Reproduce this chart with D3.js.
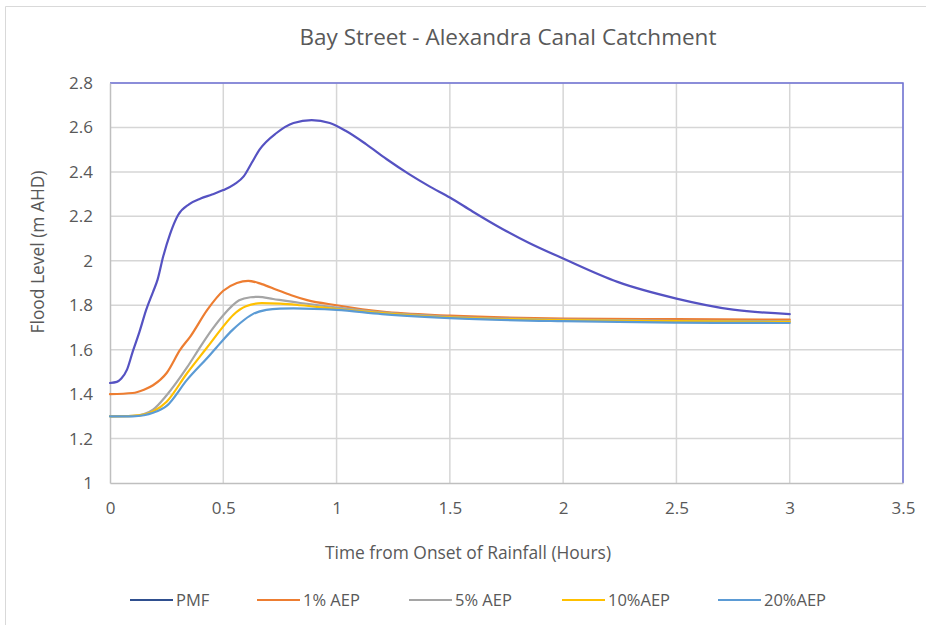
<!DOCTYPE html>
<html>
<head>
<meta charset="utf-8">
<script src="https://cdn.jsdelivr.net/npm/d3@7"></script>
<style>
  html, body { margin: 0; padding: 0; background: #ffffff; }
  svg { display: block; font-family: "Open Sans", "Lato", sans-serif; }
</style>
</head>
<body>
<svg id="chart" width="926" height="625"></svg>
<script>
// Flood level hydrographs, Bay Street - Alexandra Canal Catchment
const title = "Bay Street - Alexandra Canal Catchment";
const xTitle = "Time from Onset of Rainfall (Hours)";
const yTitle = "Flood Level (m AHD)";

const xTicks = [0, 0.5, 1, 1.5, 2, 2.5, 3, 3.5];
const yTicks = [1, 1.2, 1.4, 1.6, 1.8, 2, 2.2, 2.4, 2.6, 2.8];

const seriesNames = ["PMF", "1% AEP", "5% AEP", "10%AEP", "20%AEP"];
const seriesColors = ["#5552c2", "#ed7d31", "#a5a5a5", "#ffc000", "#5b9bd5"];
const legendSwatchColors = ["#2f4f8f", "#ed7d31", "#a5a5a5", "#ffc000", "#5b9bd5"];

// [hours, m AHD]
const pmf = [
  [0, 1.45], [0.03, 1.455], [0.05, 1.47], [0.075, 1.51], [0.10, 1.59], [0.13, 1.68],
  [0.16, 1.78], [0.19, 1.86], [0.21, 1.915], [0.235, 2.02], [0.265, 2.12], [0.30, 2.205],
  [0.35, 2.255], [0.40, 2.28], [0.45, 2.298], [0.50, 2.318], [0.55, 2.345], [0.59, 2.38],
  [0.625, 2.44], [0.66, 2.50], [0.735, 2.575], [0.81, 2.62], [0.89, 2.633], [0.97, 2.62],
  [1.04, 2.585], [1.13, 2.525], [1.22, 2.458], [1.32, 2.39], [1.41, 2.335], [1.5, 2.285],
  [1.6, 2.222], [1.72, 2.15], [1.85, 2.08], [2.0, 2.01], [2.24, 1.905], [2.5, 1.83],
  [2.75, 1.78], [3.0, 1.76]
];
const aep1 = [
  [0, 1.40], [0.1, 1.405], [0.15, 1.42], [0.19, 1.44], [0.25, 1.495], [0.31, 1.60],
  [0.355, 1.66], [0.43, 1.78], [0.50, 1.865], [0.56, 1.90], [0.61, 1.91], [0.67, 1.895],
  [0.735, 1.87], [0.80, 1.845], [0.87, 1.823], [1.0, 1.80], [1.2, 1.771], [1.5, 1.753],
  [2.0, 1.74], [2.5, 1.737], [3.0, 1.735]
];
const aep5 = [
  [0, 1.30], [0.1, 1.302], [0.15, 1.31], [0.19, 1.33], [0.25, 1.395], [0.34, 1.52],
  [0.40, 1.615], [0.45, 1.69], [0.5, 1.755], [0.57, 1.822], [0.62, 1.836], [0.655, 1.838],
  [0.72, 1.828], [0.84, 1.81], [1.0, 1.79], [1.2, 1.768], [1.5, 1.748], [2.0, 1.735],
  [2.5, 1.73], [3.0, 1.728]
];
const aep10 = [
  [0, 1.30], [0.1, 1.302], [0.15, 1.308], [0.19, 1.322], [0.25, 1.366], [0.34, 1.494],
  [0.40, 1.573], [0.44, 1.625], [0.5, 1.705], [0.545, 1.757], [0.6, 1.795], [0.67, 1.809],
  [0.75, 1.807], [0.84, 1.80], [1.0, 1.783], [1.2, 1.765], [1.5, 1.745], [2.0, 1.733],
  [2.5, 1.728], [3.0, 1.725]
];
const aep20 = [
  [0, 1.30], [0.1, 1.30], [0.15, 1.305], [0.19, 1.316], [0.25, 1.347], [0.34, 1.464],
  [0.44, 1.575], [0.47, 1.61], [0.5, 1.645], [0.54, 1.688], [0.575, 1.72], [0.63, 1.76],
  [0.69, 1.779], [0.75, 1.785], [0.81, 1.786], [1.0, 1.779], [1.2, 1.76], [1.5, 1.742],
  [2.0, 1.728], [2.5, 1.722], [3.0, 1.72]
];
const seriesData = [pmf, aep1, aep5, aep10, aep20];

const svg = d3.select("#chart");
const W = 926, H = 625;
const plot = { left: 110, right: 903, top: 83, bottom: 483 };
const textColor = "#595959";
const labelSize = 17;

// chart frame
svg.append("path")
  .attr("d", `M5.5,${H} L5.5,6.5 L${W},6.5`)
  .attr("fill", "none").attr("stroke", "#d9d9d9").attr("stroke-width", 1);

const x = d3.scaleLinear().domain([0, 3.5]).range([plot.left, plot.right]);
const y = d3.scaleLinear().domain([1, 2.8]).range([plot.bottom, plot.top]);

// gridlines
const grid = svg.append("g");
grid.selectAll("line.h").data(yTicks.slice(1)).join("line")
  .attr("x1", plot.left).attr("x2", plot.right)
  .attr("y1", d => y(d)).attr("y2", d => y(d))
  .attr("stroke", "#d6d6d6").attr("stroke-width", 1.5);
grid.selectAll("line.v").data(xTicks.slice(1)).join("line")
  .attr("y1", plot.top).attr("y2", plot.bottom)
  .attr("x1", d => x(d)).attr("x2", d => x(d))
  .attr("stroke", "#d6d6d6").attr("stroke-width", 1.5);

// plot area border (top and right)
svg.append("path")
  .attr("d", `M${plot.left},${plot.top} L${plot.right},${plot.top} L${plot.right},${plot.bottom}`)
  .attr("fill", "none").attr("stroke", "#6f72d6").attr("stroke-width", 1.5);

// axes
const xAxis = svg.append("g").attr("transform", `translate(0,${plot.bottom})`)
  .call(d3.axisBottom(x).tickValues(xTicks).tickSize(0).tickPadding(19).tickFormat(d3.format("")));
const yAxis = svg.append("g").attr("transform", `translate(${plot.left},0)`)
  .call(d3.axisLeft(y).tickValues(yTicks).tickSize(0).tickPadding(17).tickFormat(d3.format("")));
[xAxis, yAxis].forEach(a => {
  a.select(".domain").attr("stroke", "#bfbfbf").attr("stroke-width", 1.5);
  a.selectAll("text").attr("fill", textColor).attr("font-size", labelSize)
    .attr("font-family", "'Open Sans', sans-serif");
});

// series lines
const line = d3.line().x(d => x(d[0])).y(d => y(d[1])).curve(d3.curveMonotoneX);
svg.append("g").selectAll("path").data(seriesData).join("path")
  .attr("d", d => line(d))
  .attr("fill", "none")
  .attr("stroke", (d, i) => seriesColors[i])
  .attr("stroke-width", 2.2)
  .attr("stroke-linejoin", "round").attr("stroke-linecap", "round");

// titles
svg.append("text").attr("x", 508).attr("y", 45).attr("text-anchor", "middle")
  .attr("font-size", 22.5).attr("fill", textColor).text(title);
svg.append("text").attr("x", 468).attr("y", 559).attr("text-anchor", "middle")
  .attr("font-size", 17.4).attr("fill", textColor).text(xTitle);
svg.append("text").attr("transform", `translate(44,252) rotate(-90)`)
  .attr("text-anchor", "middle").attr("font-size", 17.4).attr("fill", textColor).text(yTitle);

// legend
const legendX = [130, 257, 409, 562, 718];
const legend = svg.append("g");
seriesNames.forEach((name, i) => {
  const g = legend.append("g").attr("transform", `translate(${legendX[i]},600)`);
  g.append("line").attr("x1", 0).attr("x2", 43).attr("y1", 0).attr("y2", 0)
    .attr("stroke", legendSwatchColors[i]).attr("stroke-width", 2.2);
  g.append("text").attr("x", 46).attr("y", 6).attr("font-size", 16.5)
    .attr("fill", textColor).text(name);
});
</script>
</body>
</html>
